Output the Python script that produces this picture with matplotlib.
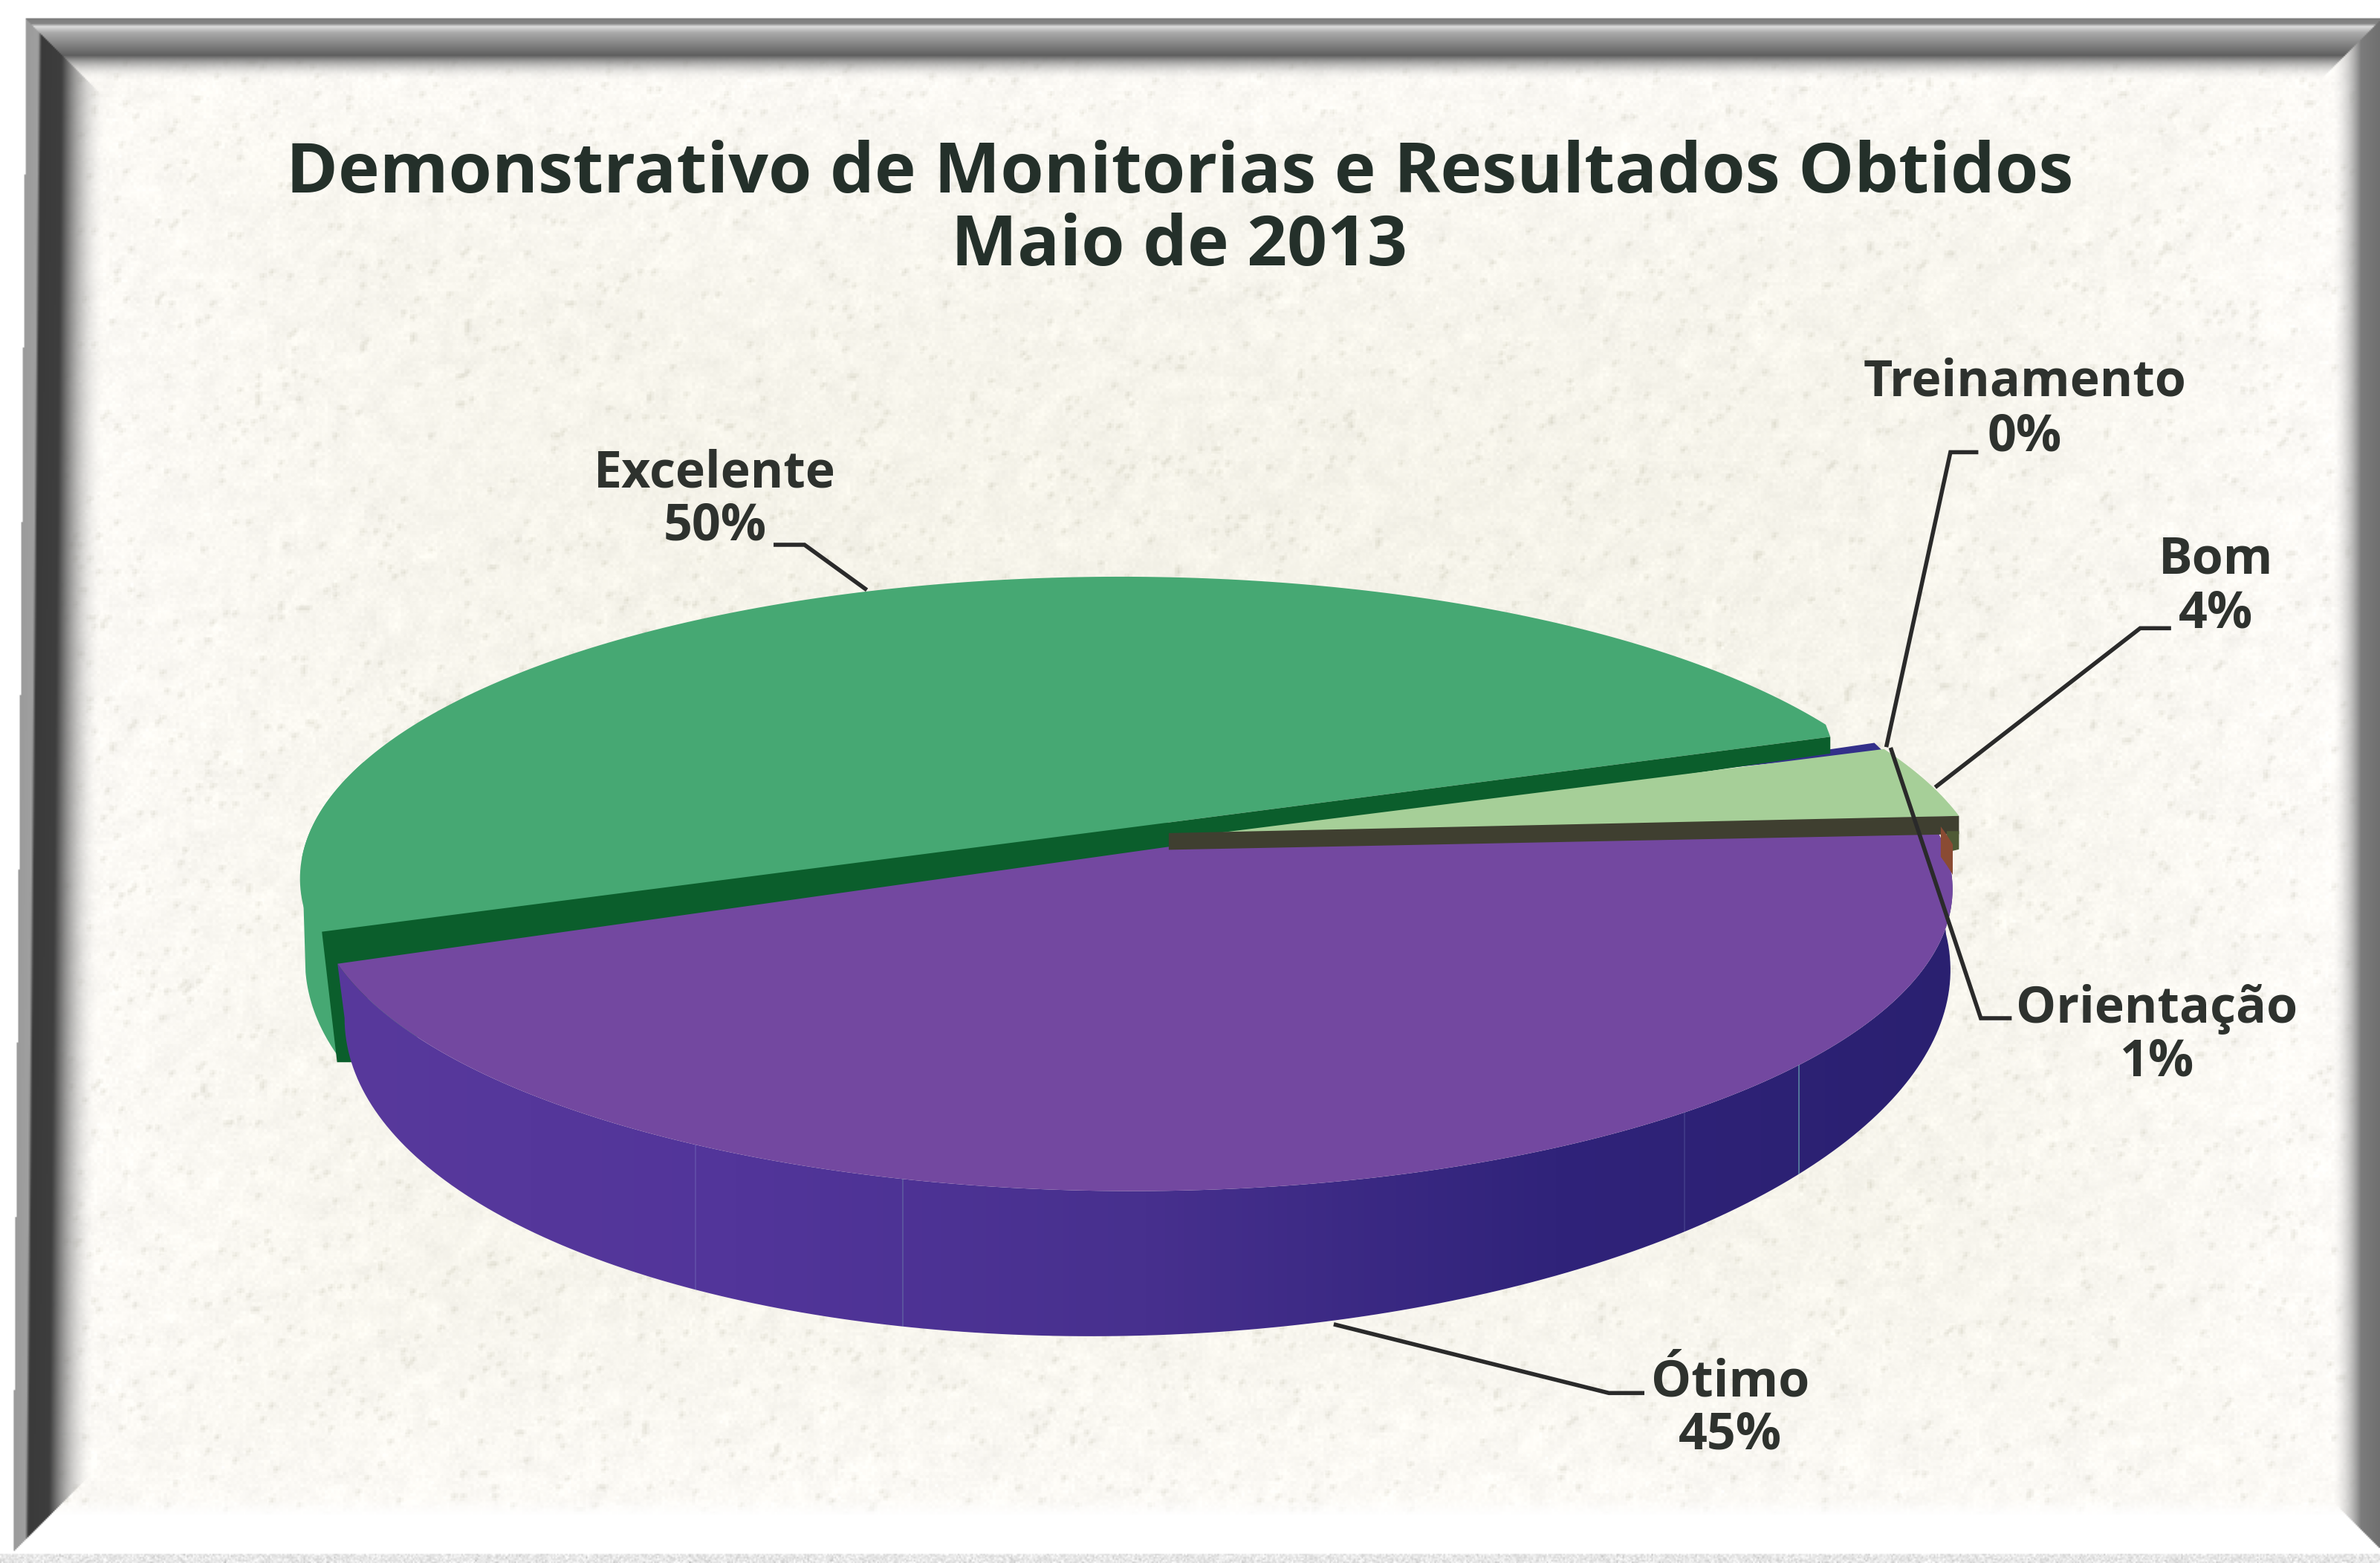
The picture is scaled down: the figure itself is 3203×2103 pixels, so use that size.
import numpy as np
import matplotlib
matplotlib.use('Agg')
import matplotlib.pyplot as plt
from matplotlib.colors import LinearSegmentedColormap
from matplotlib.patches import Polygon

# Chart data (order = anticlockwise starting from left edge of the purple slice)
categories = ['Ótimo', 'Orientação', 'Bom', 'Treinamento', 'Excelente']
values = [45, 1, 4, 0.4, 49.6]
top_colors = ['#7348A0', '#8A4B33', '#A6CF98', '#33308A', '#46A873']

title_lines = ['Demonstrativo de Monitorias e Resultados Obtidos', 'Maio de 2013']

# label anchors, same order as categories (name x, name y, pct y)
label_pos = [(1140, 911, 946), (1421, 665, 700), (1460, 369, 405), (1334, 252, 288), (471, 312, 347)]
leaders = [
    [(1082, 918), (1060, 918), (880, 873)],
    [(1324, 671), (1305, 671), (1246, 494)],
    [(1429, 414), (1410, 414), (1276, 518)],
    [(1302, 298), (1285, 298), (1243, 491)],
    [(511, 359), (530, 359), (570, 388)],
]

# pie geometry, everything in units of the 1568 wide view
APEX = (770, 558)
K, A, B, XSHIFT = 0.1406, 535, 195, -24
START = 202
LOW_C = (756, 655)
LOW_A, LOW_B, LOW_SHEAR = 529, 225, 0.03


def rim(t, dx=0, dy=0):
    t = np.radians(t)
    u, v = np.cos(t), np.sin(t)
    w = 1 + K * v
    return np.column_stack([APEX[0] + XSHIFT + dx + A * u / w, APEX[1] + dy - B * v / w])


def lower(t, dx=0, dy=0):
    t = np.radians(t)
    x = LOW_A * np.cos(t)
    y = -LOW_B * np.sin(t) - LOW_SHEAR * x
    return np.column_stack([LOW_C[0] + dx + x, LOW_C[1] + dy + y])


def arc(a, b, n=200):
    return np.linspace(a, b, n)


def build_background(w=1568, h=1030):
    rng = np.random.default_rng(7)
    yy, xx = np.mgrid[0:h, 0:w]
    # paper: cream base with faint blotches and soft speckle
    coarse = rng.normal(0, 1, (h // 8 + 2, w // 8 + 2))
    blot = np.kron(coarse, np.ones((8, 8)))[:h, :w]
    for s in (3, 5):
        blot = (blot + np.roll(blot, s, 0) + np.roll(blot, s, 1)) / 3
    mid = rng.normal(0, 1, (h // 2 + 1, w // 2 + 1))
    mid = np.kron(mid, np.ones((2, 2)))[:h, :w]
    shade = -2.5 * blot - 2 * mid
    cx = np.abs(xx - 784) / 784
    cy = np.abs(yy - 515) / 515
    vign = 9 * np.clip(np.maximum(cx, cy) ** 3, 0, 1)
    paper = np.dstack([246 + shade + vign, 244 + shade + vign, 234 + shade + 1.8 * vign])
    spots = rng.random((h // 3 + 1, w // 3 + 1)) > 0.975
    spots = np.kron(spots, np.ones((3, 3)))[:h, :w]
    spots = (spots + np.roll(spots, 2, 0) + np.roll(spots, 2, 1)) / 3
    paper -= spots[..., None] * np.array([20, 20, 24])

    # frame: grey level + opacity against distance from each side
    dl = xx - (17 - 9 * yy / h)
    dt = yy - 12.0
    dr = (w + 1.0) - xx
    db = 1022.0 - yy
    d = np.minimum(np.minimum(dl, dt), np.minimum(dr, db))
    grey = np.full(d.shape, 255.0)
    alpha = np.zeros(d.shape)
    left = (dl == d)
    top = (dt == d)
    right = (dr == d)
    bot = (db == d)
    grey[left] = np.interp(dl[left], [0, 8, 10, 23, 50], [155, 160, 58, 62, 215])
    alpha[left] = np.interp(dl[left], [0, 24, 52], [1, 1, 0])
    grey[top] = np.interp(dt[top], [0, 3, 5, 9, 24, 38], [125, 135, 220, 170, 95, 215])
    alpha[top] = np.interp(dt[top], [0, 24, 40], [1, 1, 0])
    grey[right] = np.interp(dr[right], [0, 14, 32], [110, 125, 220])
    alpha[right] = np.interp(dr[right], [0, 14, 32], [1, 1, 0])
    grey[bot] = 255
    alpha[bot] = np.interp(db[bot], [0, 24, 34], [1, 1, 0])
    img = paper * (1 - alpha[..., None]) + grey[..., None] * alpha[..., None]
    img[d < 0] = 255
    # the strip under the frame is rough grey on white
    low = yy >= 1024
    img[low] = (232 + 12 * rng.normal(0, 1, (low.sum(), 1)))
    return np.clip(img, 0, 255).astype(np.uint8)


fig = plt.figure(figsize=(32.03, 21.03), dpi=100)
ax = fig.add_axes([0, 0, 1, 1])
ax.imshow(build_background(), extent=(0, 1568, 1030, 0), interpolation='bilinear', zorder=0, aspect='auto')

# angles for each slice from the values
angles = START + np.cumsum([0] + [v * 3.6 for v in values])
slice_ang = {c: (angles[i], angles[i + 1]) for i, c in enumerate(categories)}
color = dict(zip(categories, top_colors))

# Excelente: pulled back from the pie centre
g0, g1 = slice_ang['Excelente']
g_off = (-8, -7)
g_apex = np.array([770, 542])
g_rim = rim(arc(g0, g1 - 4), *g_off)
pr = g_rim[0] + (3, 8)
pl = g_rim[-1] + (6, 0)
ax.add_patch(Polygon(np.vstack([g_apex, pr, g_rim]), fc=color['Excelente'], ec='none', zorder=2))
g_left = rim(arc(165, 184, 30), *g_off)
g_low = lower(arc(182, 197, 30), -26, -38)
ax.add_patch(Polygon(np.vstack([g_apex, g_left, g_low]), fc=color['Excelente'], ec='none', zorder=2))
cut = np.array([pr, g_apex, pl, pl + (10, 86), pl + (30, 86), pl + (30, 20), g_apex + (0, 18), pr + (0, 11)])
ax.add_patch(Polygon(cut, fc='#0B5E2C', ec='none', zorder=3))

# Ótimo: side wall first with the left-right shading, then the top
p0, p1 = slice_ang['Ótimo']
outline = np.vstack([rim(arc(p0, p1)), lower(arc(p1 + 2, 180))])
side = Polygon(outline, fc='none', ec='none', zorder=4)
ax.add_patch(side)
side_cmap = LinearSegmentedColormap.from_list('side', ['#58399C', '#52359A', '#47308E', '#30237A', '#2A2070'])
im = ax.imshow(np.linspace(0, 1, 256)[None, :], extent=(215, 1295, 890, 540), cmap=side_cmap,
               aspect='auto', zorder=4)
im.set_clip_path(side)
ax.add_patch(Polygon(np.vstack([APEX, rim(arc(p0, p1))]), fc=color['Ótimo'], ec='none', zorder=5))

# Treinamento sits under the strip of Excelente, Bom over it
b_off = (24, 5)
t0, t1 = slice_ang['Treinamento']
t_rim = rim(arc(t0, t1, 8), *b_off)
ax.add_patch(Polygon(np.vstack([(800, 553), (1000, 520), t_rim[0] + (0, 2), t_rim[-1]]), fc=color['Treinamento'], ec='none', zorder=2.5))
b0, b1 = slice_ang['Bom']
b_rim = rim(arc(b0, b1, 40), *b_off)
ax.add_patch(Polygon(np.vstack([(770, 553), b_rim]), fc=color['Bom'], ec='none', zorder=6))
corner = b_rim[0]
ax.add_patch(Polygon([(770, 549), corner, corner + (0, 12), (770, 560)], fc='#3F3F30', ec='none', zorder=7))
ax.add_patch(Polygon([corner + (-8, 10), corner + (0, 10), corner + (0, 22), corner + (-8, 24)], fc='#4F5A35', ec='none', zorder=7))
o0, o1 = slice_ang['Orientação']
sliver = np.vstack([rim(arc(o0, o1, 20), 12, 12), rim(arc(o1, o0, 20), 12, 32)])
ax.add_patch(Polygon(sliver, fc=color['Orientação'], ec='none', zorder=7.5))

# scanner streaks over the pie
whole = Polygon(outline, fc='none', ec='none', zorder=8)
ax.add_patch(whole)
for x, col, a in [(458, '#9fb4e0', 0.2), (595, '#8fd0c0', 0.25), (1110, '#9fb4e0', 0.18), (1185, '#7fd8c8', 0.55)]:
    ln, = ax.plot([x, x], [400, 900], color=col, alpha=a, lw=1.2, zorder=8)
    ln.set_clip_path(whole)

# leader lines
for pts in leaders:
    xs, ys = zip(*pts)
    ax.plot(xs, ys, color='#2A2A2A', lw=4, solid_joinstyle='miter', zorder=9)

# text
font = 'Open Sans'
for line, y in zip(title_lines, [115, 163]):
    ax.text(777, y, line, ha='center', va='center', family=font, weight='bold', fontsize=68,
            color='#24302A', zorder=10)
for name, v, (x, y1, y2) in zip(categories, values, label_pos):
    ax.text(x, y1, name, ha='center', va='center', family=font, weight='bold', fontsize=49,
            color='#2E322E', zorder=10)
    ax.text(x, y2, f'{round(v)}%', ha='center', va='center', family=font, weight='bold', fontsize=49,
            color='#2E322E', zorder=10)

ax.set_xlim(0, 1568)
ax.set_ylim(1030, 0)
ax.axis('off')
fig.savefig('out.png', dpi=100)
